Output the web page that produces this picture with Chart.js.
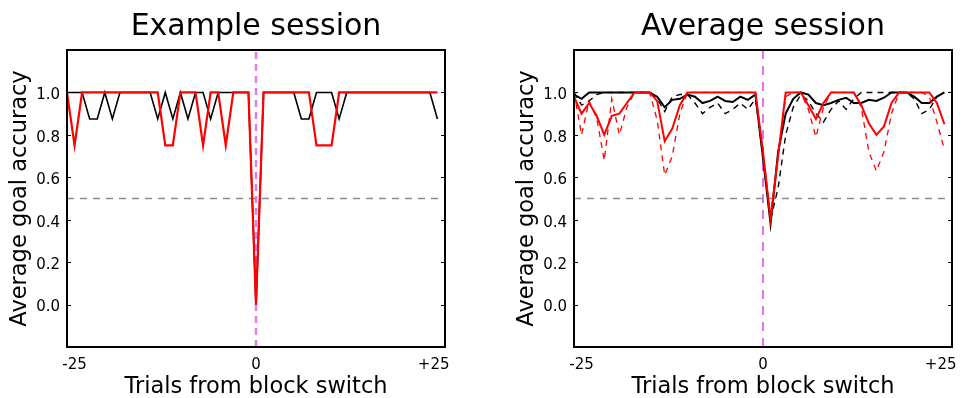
<!DOCTYPE html>
<html>
<head>
<meta charset="utf-8">
<script src="https://cdn.jsdelivr.net/npm/chart.js@4.4.0/dist/chart.umd.min.js"></script>
<style>
  html, body { margin: 0; padding: 0; background: #fff; }
  #wrap { position: relative; width: 960px; height: 398px; }
  .panel { position: absolute; top: 0; width: 480px; height: 398px; }
</style>
</head>
<body>
<div id="wrap">
  <div class="panel" style="left:0"><canvas id="example" width="480" height="398"></canvas></div>
  <div class="panel" style="left:480px"><canvas id="average" width="480" height="398"></canvas></div>
</div>
<script>
// trials relative to the block switch
var trials = [-25, -24, -23, -22, -21, -20, -19, -18, -17, -16,
              -15, -14, -13, -12, -11, -10, -9, -8, -7, -6,
              -5, -4, -3, -2, -1, 0, 1, 2, 3, 4,
              5, 6, 7, 8, 9, 10, 11, 12, 13, 14,
              15, 16, 17, 18, 19, 20, 21, 22, 23, 24];

// example session
var exampleBlack = [1, 1, 1, 0.875, 0.875, 1, 0.875, 1, 1, 1,
                    1, 1, 0.875, 1, 0.875, 1, 0.875, 1, 1, 0.875,
                    1, 1, 1, 1, 1, 0, 1, 1, 1, 1,
                    1, 0.875, 0.875, 1, 1, 1, 0.875, 1, 1, 1,
                    1, 1, 1, 1, 1, 1, 1, 1, 1, 0.875];
var exampleRed = [1, 0.75, 1, 1, 1, 1, 1, 1, 1, 1,
                  1, 1, 1, 0.75, 0.75, 1, 1, 1, 0.75, 1,
                  1, 0.75, 1, 1, 1, 0, 1, 1, 1, 1,
                  1, 1, 1, 0.75, 0.75, 0.75, 1, 1, 1, 1,
                  1, 1, 1, 1, 1, 1, 1, 1, 1, 1];

// average session
var avgBlack = [0.99, 0.97, 1.0, 1.0, 1.0, 1.0, 1.0, 1.0, 1.0, 1.0,
                1.0, 0.98, 0.93, 0.965, 0.97, 0.99, 0.98, 0.95, 0.96, 0.98,
                0.96, 0.955, 0.98, 0.965, 0.99, 0.69, 0.38, 0.72, 0.9, 0.97,
                1.0, 0.99, 0.95, 0.94, 0.95, 0.965, 0.975, 0.95, 0.95, 0.965,
                0.96, 0.975, 1.0, 1.0, 1.0, 0.98, 0.95, 0.95, 0.98, 1.0];
var avgBlackDashed = [1.0, 0.94, 0.96, 0.99, 1.0, 1.0, 1.0, 1.0, 1.0, 1.0,
                      1.0, 0.97, 0.91, 0.98, 0.99, 0.99, 0.95, 0.9, 0.93, 0.95,
                      0.9, 0.92, 0.95, 0.92, 0.97, 0.7, 0.4, 0.55, 0.8, 0.93,
                      0.99, 0.96, 0.9, 0.86, 0.92, 0.96, 0.92, 0.97, 1.0, 1.0,
                      1.0, 1.0, 1.0, 1.0, 1.0, 0.97, 0.9, 0.92, 0.98, 1.0];
var avgRed = [0.98, 0.9, 0.95, 0.89, 0.8, 0.89, 0.9, 0.95, 1.0, 1.0,
              1.0, 0.96, 0.77, 0.83, 0.94, 1.0, 1.0, 1.0, 1.0, 1.0,
              1.0, 1.0, 1.0, 1.0, 1.0, 0.72, 0.4, 0.7, 1.0, 1.0,
              1.0, 0.94, 0.875, 0.95, 1.0, 1.0, 1.0, 1.0, 0.94, 0.855,
              0.8, 0.84, 0.95, 1.0, 1.0, 1.0, 1.0, 1.0, 0.95, 0.85];
var avgRedDashed = [1.0, 0.8, 0.96, 0.88, 0.68, 0.97, 0.8, 0.93, 1.0, 1.0,
                    1.0, 0.87, 0.61, 0.7, 0.9, 1.0, 1.0, 1.0, 1.0, 1.0,
                    1.0, 1.0, 1.0, 1.0, 1.0, 0.72, 0.42, 0.7, 0.98, 1.0,
                    1.0, 0.92, 0.79, 0.93, 1.0, 1.0, 1.0, 1.0, 0.93, 0.72,
                    0.63, 0.72, 0.9, 1.0, 1.0, 1.0, 1.0, 0.98, 0.86, 0.73];

var xTickPos = [-24, 0, 23.5];
var xTickLabels = ['-25', '0', '+25'];
var yTicks = [0, 0.2, 0.4, 0.6, 0.8, 1.0];
var chance = 0.5;
var switchAt = 0;

Chart.defaults.font.family = '"DejaVu Sans", sans-serif';
Chart.defaults.color = '#000';

function pts(ys) {
  return trials.map(function (t, i) { return { x: t, y: ys[i] }; });
}

// box around the axes plus inward y ticks on both sides
var frame = {
  id: 'frame',
  afterDatasetsDraw: function (chart) {
    var a = chart.chartArea, ctx = chart.ctx, ys = chart.scales.y;
    ctx.save();
    ctx.strokeStyle = '#000';
    ctx.lineWidth = 1;
    yTicks.forEach(function (v) {
      var py = Math.round(ys.getPixelForValue(v)) + 0.5;
      ctx.beginPath();
      ctx.moveTo(a.left, py); ctx.lineTo(a.left + 4, py);
      ctx.moveTo(a.right, py); ctx.lineTo(a.right - 4, py);
      ctx.stroke();
    });
    ctx.lineWidth = 2;
    ctx.strokeRect(a.left, a.top, a.right - a.left, a.bottom - a.top);
    ctx.restore();
  }
};

function makeChart(id, title, lines, vline, pad) {
  var datasets = lines.map(function (l, i) {
    return {
      data: pts(l.ys), borderColor: l.color, borderWidth: l.width,
      borderDash: l.dash || [], pointRadius: 0, tension: 0, order: i + 1
    };
  });
  datasets.push({
    data: [{ x: -25, y: chance }, { x: 25, y: chance }],
    borderColor: '#8c8c8c', borderWidth: 1.5, borderDash: [7, 6],
    pointRadius: 0, order: 20
  });
  datasets.push({
    data: [{ x: switchAt, y: -0.2 }, { x: switchAt, y: 1.2 }],
    borderColor: vline.color, borderWidth: vline.width, borderDash: vline.dash,
    pointRadius: 0, order: 21
  });

  return new Chart(document.getElementById(id).getContext('2d'), {
    type: 'line',
    data: { datasets: datasets },
    options: {
      responsive: false,
      animation: false,
      devicePixelRatio: 1,
      layout: { padding: { left: pad.left, right: pad.right, top: 0, bottom: 0 } },
      plugins: {
        legend: { display: false },
        tooltip: { enabled: false },
        title: {
          display: true, text: title, fullSize: false,
          font: { size: 30, weight: 'normal', lineHeight: 1.2 }, color: '#000',
          padding: { top: 9, bottom: 5 }
        }
      },
      scales: {
        x: {
          type: 'linear', min: -25, max: 25,
          grid: { display: false, drawTicks: false },
          border: { display: false },
          afterBuildTicks: function (s) { s.ticks = xTickPos.map(function (v) { return { value: v }; }); },
          ticks: {
            padding: 9, maxRotation: 0, autoSkip: false, font: { size: 15 }, color: '#000',
            callback: function (v, i) { return xTickLabels[i]; }
          },
          title: {
            display: true, text: 'Trials from block switch', color: '#000',
            font: { size: 22.5, lineHeight: 1 }, padding: { top: 0, bottom: 0 }
          },
          afterFit: function (s) { s.height = 51; s.paddingLeft = 0; s.paddingRight = 0; }
        },
        y: {
          min: -0.2, max: 1.2,
          grid: { display: false, drawTicks: false },
          border: { display: false },
          afterBuildTicks: function (s) { s.ticks = yTicks.map(function (v) { return { value: v }; }); },
          ticks: {
            padding: 7, labelOffset: 3, font: { size: 15 }, color: '#000',
            callback: function (v) { return v.toFixed(1); }
          },
          title: {
            display: true, text: 'Average goal accuracy', color: '#000',
            font: { size: 22.5 }, padding: { top: 7, bottom: 0 }
          },
          afterFit: function (s) { s.width = 67; s.paddingTop = 0; s.paddingBottom = 0; }
        }
      }
    },
    plugins: [frame]
  });
}

makeChart('example', 'Example session', [
  { ys: exampleRed, color: '#ff0000', width: 2.2 },
  { ys: exampleBlack, color: '#000000', width: 1.6 }
], { color: '#e47ce8', width: 2.5, dash: [7, 5] }, { left: 0, right: 35 });

makeChart('average', 'Average session', [
  { ys: avgRed, color: '#ff0000', width: 2 },
  { ys: avgRedDashed, color: '#ff0000', width: 1.3, dash: [6, 5] },
  { ys: avgBlack, color: '#000000', width: 2 },
  { ys: avgBlackDashed, color: '#000000', width: 1.4, dash: [6, 5] }
], { color: '#d23ad6', width: 1.4, dash: [9, 7] }, { left: 27, right: 8 });
</script>
</body>
</html>
